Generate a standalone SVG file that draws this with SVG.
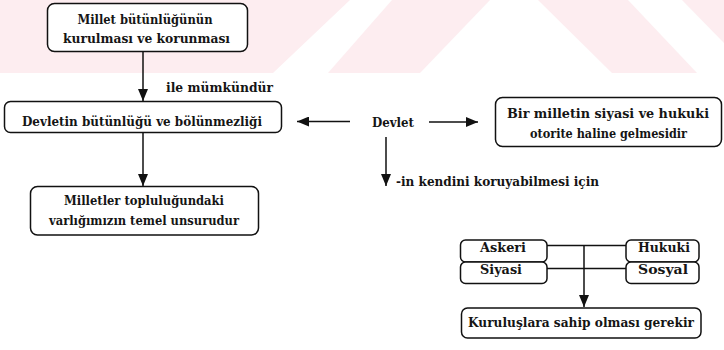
<svg xmlns="http://www.w3.org/2000/svg" width="724" height="350" viewBox="0 0 724 350">
<style>
.bg{fill:#ffffff}
.wm{fill:#fdedf0}
.box{fill:#ffffff;stroke:#111;stroke-width:1.5}
.t{font-family:'DejaVu Serif','Liberation Serif',serif;font-stretch:condensed;font-size:13.5px;font-weight:bold;fill:#151515}
.c{text-anchor:middle}
.ln{stroke:#111;stroke-width:1.5;fill:none}
</style>
<defs>
<marker id="ah" viewBox="0 0 12 10" refX="12" refY="5" markerWidth="12" markerHeight="10" markerUnits="userSpaceOnUse" orient="auto">
<path d="M0,0 L12,5 L0,10 Z" fill="#111"/>
</marker>
</defs>
<rect class="bg" x="0" y="0" width="724" height="350"/>
<g id="watermark">
<polygon class="wm" points="0,0 350,0 273,73 0,73"/>
<polygon class="wm" points="392,0 490,0 420,73 328,73"/>
<polygon class="wm" points="538,0 628,0 697,73 612,73"/>
<polygon class="wm" points="682,0 724,0 724,43"/>
</g>
<g id="connectors">
<line class="ln" x1="143" y1="52" x2="143" y2="101" marker-end="url(#ah)"/>
<line class="ln" x1="143" y1="132" x2="143" y2="186" marker-end="url(#ah)"/>
<line class="ln" x1="350" y1="121.5" x2="297" y2="121.5" marker-end="url(#ah)"/>
<line class="ln" x1="429" y1="122" x2="478" y2="122" marker-end="url(#ah)"/>
<line class="ln" x1="386" y1="137" x2="386" y2="186" marker-end="url(#ah)"/>
<line class="ln" x1="547" y1="245.5" x2="626" y2="245.5"/>
<line class="ln" x1="547" y1="268.5" x2="626" y2="268.5"/>
<line class="ln" x1="584" y1="245.5" x2="584" y2="307" marker-end="url(#ah)"/>
</g>
<g id="n1">
<rect class="box" x="47.5" y="3.5" width="200" height="48" rx="7"/>
<text class="t c" x="145" y="23.5" textLength="135" lengthAdjust="spacingAndGlyphs">Millet bütünlüğünün</text>
<text class="t c" x="146.5" y="42.5" textLength="167" lengthAdjust="spacingAndGlyphs">kurulması ve korunması</text>
</g>
<g id="lbl1">
<text class="t" x="166" y="92" textLength="107" lengthAdjust="spacingAndGlyphs">ile mümkündür</text>
</g>
<g id="n2">
<rect class="box" x="4.5" y="101.5" width="277" height="31" rx="6"/>
<text class="t c" x="142" y="126" textLength="240" lengthAdjust="spacingAndGlyphs">Devletin bütünlüğü ve bölünmezliği</text>
</g>
<g id="n3">
<rect class="box" x="30.5" y="186.5" width="228" height="48.5" rx="7"/>
<text class="t c" x="144" y="205" textLength="160" lengthAdjust="spacingAndGlyphs">Milletler topluluğundaki</text>
<text class="t c" x="144" y="224.5" textLength="190" lengthAdjust="spacingAndGlyphs">varlığımızın temel unsurudur</text>
</g>
<g id="devlet">
<text class="t" x="372" y="127" textLength="42" lengthAdjust="spacingAndGlyphs">Devlet</text>
</g>
<g id="n4">
<rect class="box" x="495.5" y="97.5" width="226" height="49" rx="7"/>
<text class="t c" x="608" y="118" textLength="202" lengthAdjust="spacingAndGlyphs">Bir milletin siyasi ve hukuki</text>
<text class="t c" x="608.5" y="137.5" textLength="157" lengthAdjust="spacingAndGlyphs">otorite haline gelmesidir</text>
</g>
<g id="lbl2">
<text class="t" x="396" y="186" textLength="203" lengthAdjust="spacingAndGlyphs">-in kendini koruyabilmesi için</text>
</g>
<g id="askeri">
<rect class="box" x="460.5" y="240" width="86.5" height="22" rx="5"/>
<text class="t c" x="503" y="251.5" textLength="46" lengthAdjust="spacingAndGlyphs">Askeri</text>
</g>
<g id="siyasi">
<rect class="box" x="460.5" y="262" width="86.5" height="21.5" rx="5"/>
<text class="t c" x="501" y="274" textLength="42" lengthAdjust="spacingAndGlyphs">Siyasi</text>
</g>
<g id="hukuki">
<rect class="box" x="626" y="240" width="73" height="22" rx="5"/>
<text class="t c" x="664" y="251.5" textLength="52" lengthAdjust="spacingAndGlyphs">Hukuki</text>
</g>
<g id="sosyal">
<rect class="box" x="626" y="262" width="73" height="21.5" rx="5"/>
<text class="t c" x="663" y="274" textLength="50" lengthAdjust="spacingAndGlyphs">Sosyal</text>
</g>
<g id="n5">
<rect class="box" x="461.5" y="308" width="239.5" height="30" rx="6"/>
<text class="t c" x="581" y="326.5" textLength="226" lengthAdjust="spacingAndGlyphs">Kuruluşlara sahip olması gerekir</text>
</g>
</svg>
